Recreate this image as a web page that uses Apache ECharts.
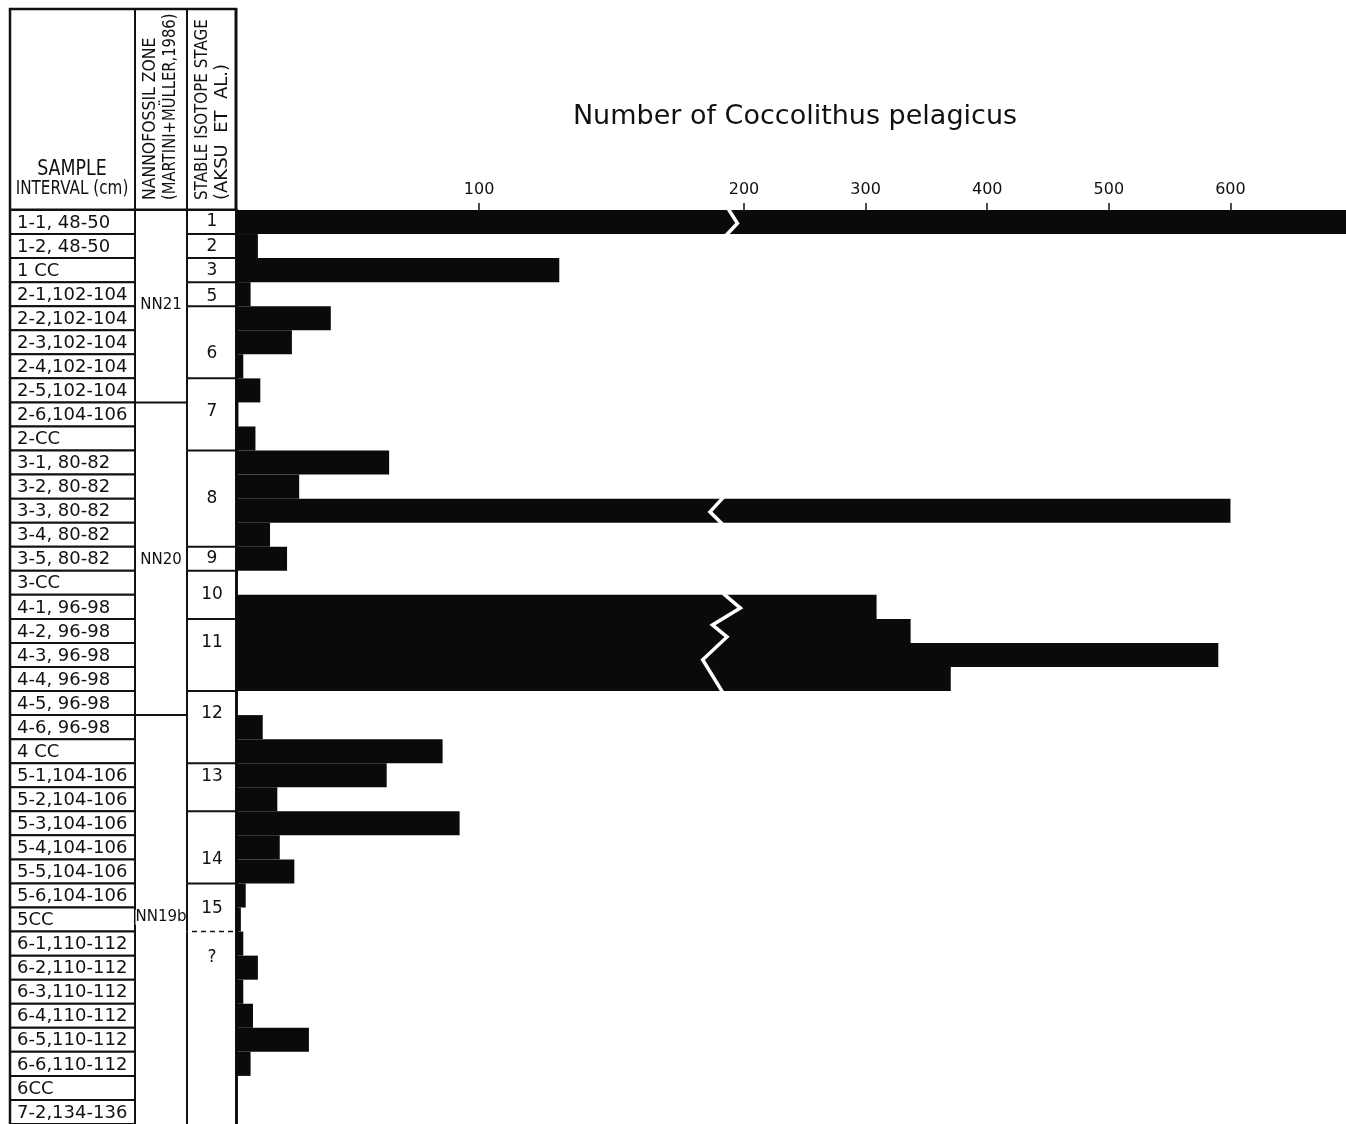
<!DOCTYPE html>
<html><head><meta charset="utf-8">
<script src="https://cdn.jsdelivr.net/npm/echarts@6/dist/echarts.min.js"></script>
<style>html,body{margin:0;padding:0;background:#fff}#c{width:1346px;height:1124px}</style>
</head><body><div id="c"></div>
<script>
// ---- data ----
const samples = ['1-1, 48-50','1-2, 48-50','1 CC','2-1,102-104','2-2,102-104','2-3,102-104','2-4,102-104','2-5,102-104','2-6,104-106','2-CC','3-1, 80-82','3-2, 80-82','3-3, 80-82','3-4, 80-82','3-5, 80-82','3-CC','4-1, 96-98','4-2, 96-98','4-3, 96-98','4-4, 96-98','4-5, 96-98','4-6, 96-98','4 CC','5-1,104-106','5-2,104-106','5-3,104-106','5-4,104-106','5-5,104-106','5-6,104-106','5CC','6-1,110-112','6-2,110-112','6-3,110-112','6-4,110-112','6-5,110-112','6-6,110-112','6CC','7-2,134-136'];
const counts = [720,9,133,6,39,23,3,10,1,8,63,26,600,14,21,0,309,337,590,370,0,11,85,62,17,92,18,24,4,2,3,9,3,7,30,6,0,0];

const zoneNames = ['NN21','NN20','NN19b'];
const zoneStart = [0,8,21];
const zoneLabelRow = [3.97,14.57,29.4];

const stageNames = ['1','2','3','5','6','7','8','9','10','11','12','13','14','15','?'];
const stageStart = [0,1,2,3,4,7,10,14,15,17,20,23,25,28,30];
const stageLabelRow = [0.5,1.5,2.5,3.6,5.96,8.4,12.0,14.5,16.0,18.0,20.95,23.55,27.0,29.05,31.1];
const dashedStageTop = ['?'];

const lowTicks = [100];
const highTicks = [200,300,400,500,600];

// axis-break zig-zags: row where they start, points as [value, row-fraction]
const breakRows = [0,12,16];
const breakPaths = [
  [[202.5,-0.05],[206.3,0.55],[201.2,1.1]],
  [[200.5,-0.05],[195,0.55],[200.5,1.1]],
  [[200.5,-0.05],[207.5,0.55],[196,1.25],[202,1.75],[192,2.7],[200.5,4.1]]
];

// ---- chart ----
const FONT = '"DejaVu Sans", sans-serif';
const INK = '#111';
const chart = echarts.init(document.getElementById('c'));

function rowGeom(api, idx){
  const p = api.coord([0, idx]);
  const h = api.size([0, 1])[1];
  return {x0: p[0], top: p[1] - h/2, h: h};
}

function renderSample(params, api){
  const i = api.value(2);
  const g = rowGeom(api, i);
  return {type:'group', children:[
    {type:'rect', shape:{x:g.x0-226, y:g.top, width:125, height:g.h},
     style:{fill:'#fff', stroke:INK, lineWidth:2}},
    {type:'text', style:{text:samples[i], x:g.x0-219, y:g.top+g.h/2+1, align:'left', verticalAlign:'middle',
      fontSize:18, fontFamily:FONT, fill:INK}}
  ]};
}

function renderZone(params, api){
  const i = api.value(2);
  const g = rowGeom(api, zoneStart[i]);
  const g0 = rowGeom(api, 0);
  return {type:'group', children:[
    {type:'line', shape:{x1:g.x0-101, y1:g.top, x2:g.x0-49, y2:g.top}, style:{stroke:INK, lineWidth:2}},
    {type:'text', style:{text:zoneNames[i], x:g.x0-75, y:g0.top+zoneLabelRow[i]*g0.h, align:'center', verticalAlign:'middle',
      fontSize:15, fontFamily:FONT, fill:INK, backgroundColor:'#fff'}}
  ]};
}

function renderStage(params, api){
  const i = api.value(2);
  const g = rowGeom(api, stageStart[i]);
  const g0 = rowGeom(api, 0);
  const dashed = dashedStageTop.indexOf(stageNames[i]) >= 0;
  const end = i + 1 < stageNames.length ? stageStart[i+1] : samples.length;
  return {type:'group', children:[
    {type:'line', shape:{x1:g.x0-49, y1:g.top, x2:g.x0-49, y2:g.top+(end-stageStart[i])*g.h}, style:{stroke:INK, lineWidth:2}},
    {type:'line', shape:{x1:dashed?g.x0-44:g.x0-49, y1:g.top, x2:g.x0, y2:g.top},
      style:{stroke:INK, lineWidth:dashed?1.5:2, lineDash:dashed?[5,4]:null}},
    {type:'text', style:{text:stageNames[i], x:g.x0-24, y:g0.top+stageLabelRow[i]*g0.h, align:'center', verticalAlign:'middle',
      fontSize:17, fontFamily:FONT, fill:INK}}
  ]};
}

function renderBreak(params, api){
  const i = api.value(2);
  const r = breakRows[i];
  const h = api.size([0,1])[1];
  const pts = breakPaths[i].map(function(pt){
    const p = api.coord([pt[0], r]);
    return [p[0], p[1] - h/2 + pt[1]*h];
  });
  return {type:'polyline', shape:{points:pts}, style:{stroke:'#fff', lineWidth:3.5, fill:null, lineJoin:'miter'}};
}

function hdrText(text, x, y, size, sx, rot){
  return {type:'text', x:x, y:y, rotation:rot||0, scaleX:sx, z:10,
    style:{text:text, x:0, y:0, align: rot ? 'left' : 'center', verticalAlign:'middle', fontSize:size, fontFamily:FONT, fill:INK}};
}
function hdrLine(x1,y1,x2,y2,w){
  return {type:'line', z:10, shape:{x1:x1,y1:y1,x2:x2,y2:y2}, style:{stroke:INK, lineWidth:w||2}};
}

const option = {
  animation:false,
  backgroundColor:'#fff',
  title:{text:'Number of Coccolithus pelagicus', left:790, top:98, textAlign:'center',
    textStyle:{fontSize:27, fontWeight:'normal', color:INK, fontFamily:FONT}},
  grid:[
    {left:236, top:210, width:508, height:918},
    {left:744, top:210, width:602, height:918}
  ],
  xAxis:[
    {type:'value', gridIndex:0, position:'top', min:0, max:209, interval:100,
     axisLine:{show:false}, splitLine:{show:false},
     axisTick:{show:true, customValues:lowTicks, length:7, lineStyle:{color:INK, width:1.5}},
     axisLabel:{customValues:lowTicks, margin:12, fontSize:16, color:INK, fontFamily:FONT}},
    {type:'value', gridIndex:1, position:'top', min:200, max:695, interval:100,
     axisLine:{show:false}, splitLine:{show:false},
     axisTick:{show:true, customValues:highTicks, length:7, lineStyle:{color:INK, width:1.5}},
     axisLabel:{customValues:highTicks, margin:12, fontSize:16, color:INK, fontFamily:FONT}}
  ],
  yAxis:[
    {type:'category', gridIndex:0, data:samples, inverse:true,
     axisLine:{show:true, lineStyle:{color:INK, width:3}}, axisTick:{show:false}, axisLabel:{show:false}, splitLine:{show:false}},
    {type:'category', gridIndex:1, data:samples, inverse:true, show:false}
  ],
  series:[
    {type:'bar', xAxisIndex:0, yAxisIndex:0, data:counts, barWidth:'100%', barGap:'0%', itemStyle:{color:'#0a0a0a'}, z:2},
    {type:'bar', xAxisIndex:1, yAxisIndex:1, data:counts.map(function(v){return v>200?v:'-';}), barWidth:'100%', itemStyle:{color:'#0a0a0a'}, z:2},
    {type:'custom', xAxisIndex:0, yAxisIndex:0, renderItem:renderBreak, clip:false, z:5,
     data:breakRows.map(function(r,i){return [200, r, i];}), encode:{x:0, y:1}},
    {type:'custom', xAxisIndex:0, yAxisIndex:0, renderItem:renderSample, clip:false, z:3,
     data:samples.map(function(s,i){return [0, i, i];}), encode:{x:0, y:1}},
    {type:'custom', xAxisIndex:0, yAxisIndex:0, renderItem:renderZone, clip:false, z:3,
     data:zoneNames.map(function(s,i){return [0, zoneStart[i], i];}), encode:{x:0, y:1}},
    {type:'custom', xAxisIndex:0, yAxisIndex:0, renderItem:renderStage, clip:false, z:3,
     data:stageNames.map(function(s,i){return [0, stageStart[i], i];}), encode:{x:0, y:1}}
  ],
  graphic:[
    hdrLine(9,9,237,9,2.5),
    hdrLine(10,8,10,1124,2.5),
    hdrLine(135,9,135,210,2),
    hdrLine(187,9,187,210,2),
    hdrLine(236,8,236,211,3),
    hdrLine(10,209.5,236,209.5,2),
    hdrText('SAMPLE', 72, 170, 21, 0.83),
    hdrText('INTERVAL (cm)', 72, 189, 20, 0.76),
    hdrText('NANNOFOSSIL ZONE', 150, 200, 18, 0.87, Math.PI/2),
    hdrText('(MARTINI+MÜLLER,1986)', 170, 200, 18, 0.82, Math.PI/2),
    hdrText('STABLE ISOTOPE STAGE', 202, 200, 18, 0.84, Math.PI/2),
    hdrText('(AKSU  ET  AL.)', 222, 200, 18, 1.0, Math.PI/2)
  ]
};
chart.setOption(option);
</script>
</body></html>
